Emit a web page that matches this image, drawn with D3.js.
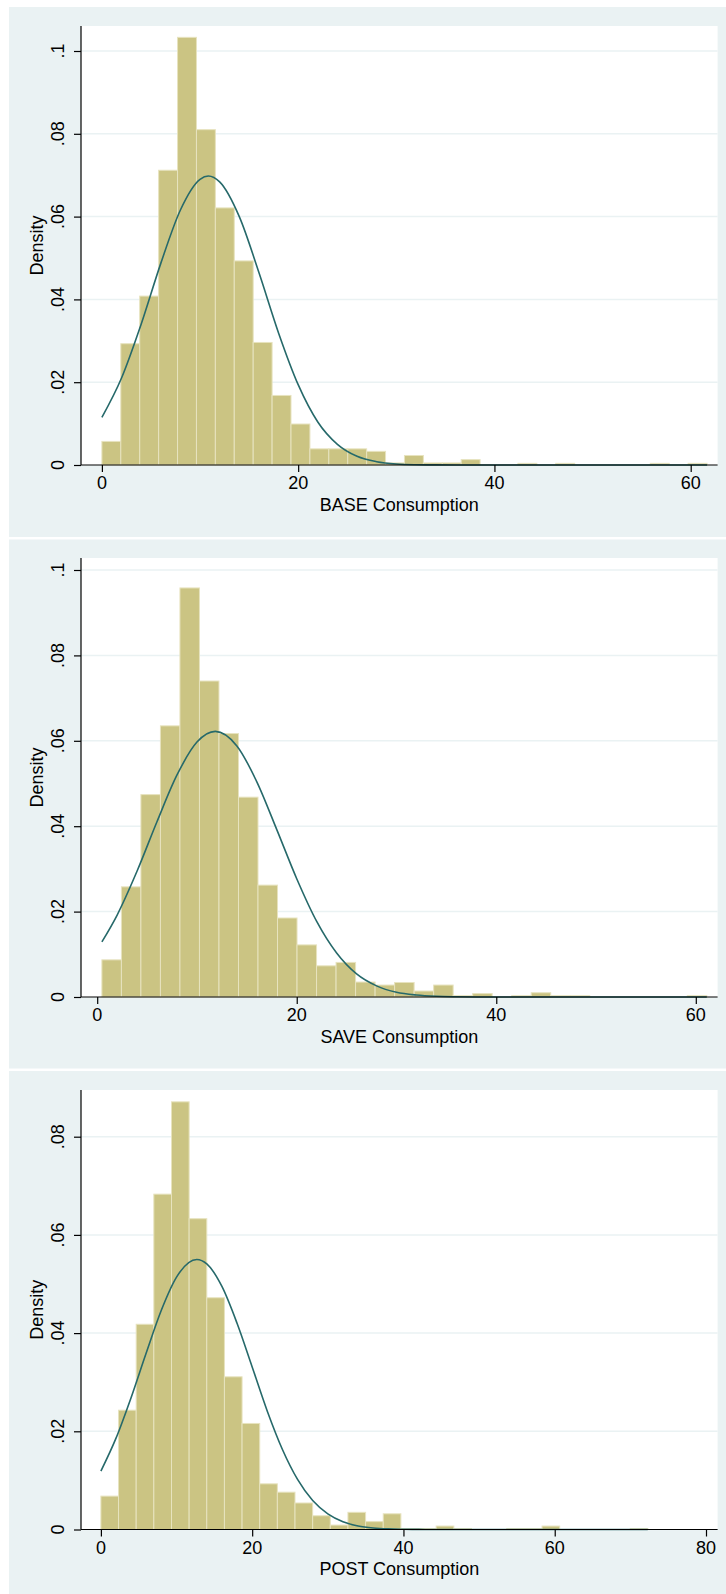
<!DOCTYPE html>
<html>
<head>
<meta charset="utf-8">
<script src="https://cdn.jsdelivr.net/npm/d3@7"></script>
<style>
  body { margin: 0; background: #fff; }
  svg { display: block; font-family: "Liberation Sans", Arial, sans-serif; }
</style>
</head>
<body>
<div id="chart"></div>
<script>
// histogram bin heights (density)
const baseStart = 0, baseWidth = 1.927;
const baseDensity = [0.0057, 0.0293, 0.0408, 0.0712, 0.1033, 0.0810, 0.0621, 0.0493, 0.0296, 0.0168,
  0.0099, 0.0039, 0.0039, 0.0039, 0.0033, 0.0005, 0.0023, 0.0005, 0.0005, 0.0013,
  0, 0, 0.0004, 0, 0.0004, 0, 0, 0, 0, 0.0004, 0, 0.0004];

const saveStart = 0.47, saveWidth = 1.956;
const saveDensity = [0.0087, 0.0258, 0.0474, 0.0635, 0.0958, 0.0740, 0.0617, 0.0468, 0.0262, 0.0185,
  0.0122, 0.0073, 0.0081, 0.0035, 0.0028, 0.0034, 0.0014, 0.0028, 0.0003, 0.0008,
  0, 0.0003, 0.0010, 0.0003, 0.0003, 0, 0, 0, 0, 0, 0.0003];

const postStart = 0, postWidth = 2.333;
const postDensity = [0.0068, 0.0243, 0.0418, 0.0683, 0.0871, 0.0633, 0.0472, 0.0311, 0.0216, 0.0093,
  0.0076, 0.0054, 0.0028, 0.0009, 0.0035, 0.0016, 0.0032, 0.0002, 0.0002, 0.0007,
  0.0002, 0, 0, 0.0002, 0.0002, 0.0007, 0, 0, 0, 0, 0.0002];

// normal overlay, points [x, density]
const baseNormal = [[0, 0.0115], [2, 0.0210], [4, 0.0340], [6, 0.0487], [8, 0.0616], [10, 0.0690],
  [10.85, 0.0698], [12, 0.0684], [14, 0.0600], [16, 0.0465], [18, 0.0319], [20, 0.0194],
  [22, 0.0104], [24, 0.0050], [26, 0.0021], [28, 0.0008], [30, 0.00025], [32, 0.00007],
  [34, 0.00002], [36, 0], [45, 0], [61.67, 0]];

const saveNormal = [[0.47, 0.0129], [2, 0.0192], [4, 0.0295], [6, 0.0411], [8, 0.0520], [10, 0.0597],
  [11.84, 0.0622], [14, 0.0588], [16, 0.0504], [18, 0.0392], [20, 0.0277], [22, 0.0177],
  [24, 0.0103], [26, 0.0054], [28, 0.0026], [30, 0.0011], [32, 0.00045], [34, 0.00016],
  [36, 0.00005], [38, 0.00001], [40, 0], [50, 0], [61.1, 0]];

const postNormal = [[0, 0.0119], [2, 0.0186], [4, 0.0269], [6, 0.0360], [8, 0.0447], [10, 0.0514],
  [12.68, 0.0550], [14, 0.0541], [16, 0.0495], [18, 0.0420], [20, 0.0331], [22, 0.0241],
  [24, 0.0163], [26, 0.0102], [28, 0.0059], [30, 0.0032], [32, 0.0016], [34, 0.00073],
  [36, 0.00031], [38, 0.00012], [40, 0.00005], [42, 0.00002], [44, 0], [55, 0], [72.3, 0]];

// axis ticks and titles
const yTicks = [0, 0.02, 0.04, 0.06, 0.08, 0.1];
const yLabels = ["0", ".02", ".04", ".06", ".08", ".1"];
const yTicksPost = [0, 0.02, 0.04, 0.06, 0.08];
const yLabelsPost = ["0", ".02", ".04", ".06", ".08"];
const xTicks = [0, 20, 40, 60];
const xTicksPost = [0, 20, 40, 60, 80];
const xTitles = ["BASE Consumption", "SAVE Consumption", "POST Consumption"];
const yTitle = "Density";

const width = 726, height = 1594;
const plotLeft = 81, plotRight = 717.6;
const bgColor = "#eaf2f3", barFill = "#cbc483", barEdge = "#e7e3bf", lineColor = "#26696a";

// layout of each of the stacked graphs
const panels = [
  { start: baseStart, w: baseWidth, dens: baseDensity, curve: baseNormal, yt: yTicks, yl: yLabels, xt: xTicks,
    bgTop: 7, bgBottom: 537, plotTop: 26, axisY: 465, topTickY: 51, x0: 101.9, xEnd: 690.7 },
  { start: saveStart, w: saveWidth, dens: saveDensity, curve: saveNormal, yt: yTicks, yl: yLabels, xt: xTicks,
    bgTop: 539.5, bgBottom: 1068.5, plotTop: 558, axisY: 997, topTickY: 570, x0: 97.2, xEnd: 695.8 },
  { start: postStart, w: postWidth, dens: postDensity, curve: postNormal, yt: yTicksPost, yl: yLabelsPost, xt: xTicksPost,
    bgTop: 1071, bgBottom: 1594, plotTop: 1090, axisY: 1529.5, topTickY: 1136.7, x0: 100.9, xEnd: 706 }
];

const svg = d3.select("#chart").append("svg")
  .attr("width", width).attr("height", height);

panels.forEach((p, k) => {
  const g = svg.append("g");
  const lastX = p.xt[p.xt.length - 1], lastY = p.yt[p.yt.length - 1];
  const x = d3.scaleLinear().domain([0, lastX]).range([p.x0, p.xEnd]);
  const y = d3.scaleLinear().domain([0, lastY]).range([p.axisY, p.topTickY]);

  // graph region + plot region
  g.append("rect").attr("x", 9).attr("y", p.bgTop)
    .attr("width", width - 9).attr("height", p.bgBottom - p.bgTop).attr("fill", bgColor);
  g.append("rect").attr("x", plotLeft).attr("y", p.plotTop)
    .attr("width", plotRight - plotLeft).attr("height", p.axisY - p.plotTop).attr("fill", "#fff");

  // horizontal grid
  g.selectAll(".grid").data(p.yt.filter(d => d > 0)).enter().append("line")
    .attr("x1", plotLeft).attr("x2", plotRight)
    .attr("y1", d => y(d)).attr("y2", d => y(d))
    .attr("stroke", bgColor).attr("stroke-width", 1.5);

  // bars
  const bins = p.dens.map((v, i) => ({ x0: p.start + i * p.w, x1: p.start + (i + 1) * p.w, v: v }))
    .filter(d => d.v > 0);
  g.selectAll(".bar").data(bins).enter().append("rect")
    .attr("x", d => x(d.x0))
    .attr("y", d => y(d.v))
    .attr("width", d => x(d.x1) - x(d.x0))
    .attr("height", d => y(0) - y(d.v))
    .attr("fill", barFill)
    .attr("stroke", barEdge)
    .attr("stroke-width", 1);

  // normal density
  const line = d3.line().x(d => x(d[0])).y(d => y(d[1])).curve(d3.curveMonotoneX);
  g.append("path").datum(p.curve)
    .attr("d", line)
    .attr("fill", "none")
    .attr("stroke", lineColor)
    .attr("stroke-width", 1.6);

  // axes
  const yAxis = d3.axisLeft(y).tickValues(p.yt).tickSize(7).tickFormat("");
  const gy = g.append("g").attr("transform", `translate(${plotLeft},0)`).call(yAxis);
  gy.select(".domain").attr("d", `M-7,${p.plotTop}H0V${p.axisY}`);
  const xAxis = d3.axisBottom(x).tickValues(p.xt).tickSize(7).tickFormat("");
  const gx = g.append("g").attr("transform", `translate(0,${p.axisY})`).call(xAxis);
  gx.select(".domain").attr("d", `M${plotLeft},0H${plotRight}`);
  g.selectAll(".domain").attr("stroke", "#000").attr("stroke-width", 1.2).attr("fill", "none");
  g.selectAll(".tick line").attr("stroke", "#000").attr("stroke-width", 1.2);
  gy.select(".domain").attr("d", `M0,${p.plotTop}V${p.axisY}`);

  // tick labels
  g.selectAll(".ylab").data(p.yt).enter().append("text")
    .attr("transform", d => `translate(63.5,${y(d)}) rotate(-90)`)
    .attr("text-anchor", "middle")
    .attr("font-size", 18)
    .text((d, i) => p.yl[i]);
  g.selectAll(".xlab").data(p.xt).enter().append("text")
    .attr("x", d => x(d)).attr("y", p.axisY + 24)
    .attr("text-anchor", "middle")
    .attr("font-size", 18)
    .text(d => d);

  // titles
  g.append("text")
    .attr("transform", `translate(43,${(p.plotTop + p.axisY) / 2}) rotate(-90)`)
    .attr("text-anchor", "middle").attr("font-size", 18)
    .text(yTitle);
  g.append("text")
    .attr("x", (plotLeft + plotRight) / 2).attr("y", p.axisY + 45.5)
    .attr("text-anchor", "middle").attr("font-size", 18)
    .text(xTitles[k]);
});
</script>
</body>
</html>
